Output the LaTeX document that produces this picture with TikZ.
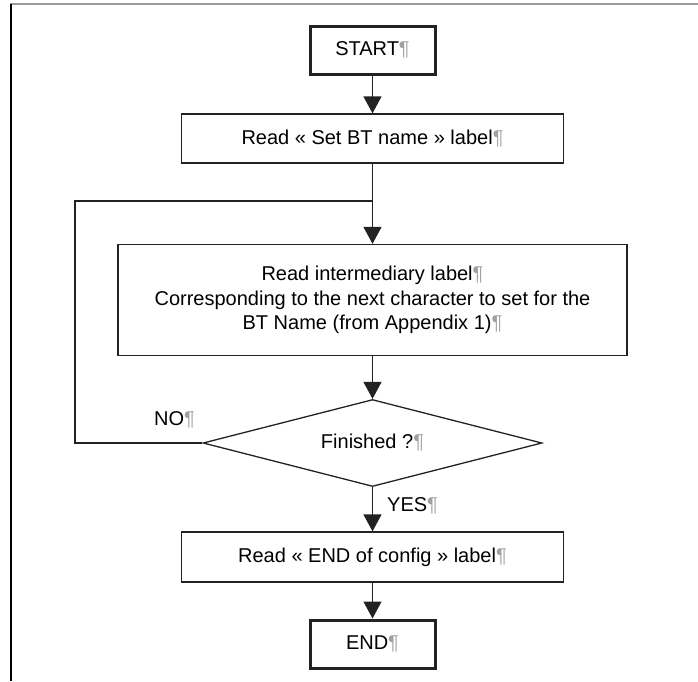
\documentclass[tikz,border=0pt]{standalone}
\usepackage{fontspec}
\setmainfont{Liberation Sans}
\usetikzlibrary{shapes.geometric,arrows.meta}
\definecolor{pilcrow}{HTML}{A0A0A0}
\definecolor{framegray}{HTML}{9A9A9A}
\definecolor{stroke}{HTML}{222222}
\newcommand{\pil}{{\color{pilcrow}¶}}
\begin{document}
\begin{tikzpicture}[x={(1pt,0)}, y={(0,-1pt)}, font=\fontsize{20}{24.5}\selectfont]
    \tikzstyle{box} = [draw=stroke, line width=1.3pt, inner sep=0pt, align=center];
    \tikzstyle{term} = [box, line width=3pt, minimum width=125pt, minimum height=48pt];
    \tikzstyle{flow} = [draw=stroke, line width=1.3pt];
    \tikzstyle{arrow} = [flow, -{Triangle[width=18pt,length=17pt]}];
    \useasboundingbox (0,0) rectangle (698,681);
    \draw[framegray, line width=2pt] (10,4) -- (698,4);
    \draw[line width=2pt] (11,4) -- (11,681);
    \node[term] (start) at (372.5,50) {START\pil};
    \node[box, minimum width=382pt, minimum height=49pt] (readname) at (372.5,138.5) {Read « Set BT name » label\pil};
    \node[box, minimum width=509pt, minimum height=111pt] (readchar) at (372.5,300)
        {Read intermediary label\pil\\Corresponding to the next character to set for the\\BT Name (from Appendix 1)\pil};
    \node[diamond, draw=stroke, line width=1.3pt, inner sep=0pt, aspect=3.9, minimum width=339pt, minimum height=87pt] (finished) at (372.5,443) {Finished ?\pil};
    \node[box, minimum width=382pt, minimum height=50pt] (readend) at (372.5,557) {Read « END of config » label\pil};
    \node[term] (stop) at (372.5,644) {END\pil};
    \node[anchor=west, inner sep=0pt] (yes) at (387,506) {YES\pil};
    \node[anchor=west, inner sep=0pt] (no) at (154,420) {NO\pil};
    \foreach \a/\b in {start/readname, readname/readchar, readchar/finished, finished/readend, readend/stop}
        {\draw[arrow] (\a) -- (\b);}
    \coordinate (loopturn) at (75,201);
    \coordinate (loopjoin) at (372.5,201);
    \draw[flow] (finished.west) -| (loopturn) -- (loopjoin);
\end{tikzpicture}
\end{document}
